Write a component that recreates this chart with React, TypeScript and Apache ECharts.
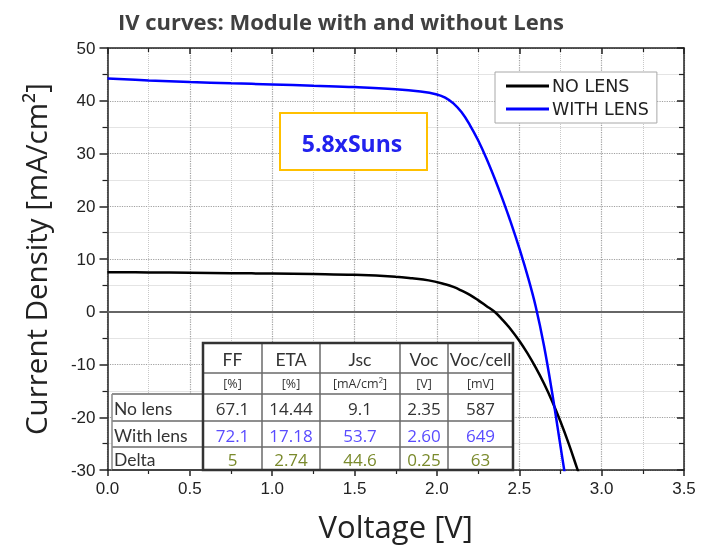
import React, { useEffect, useRef } from 'react';
import * as echarts from 'echarts';

const titleText = 'IV curves: Module with and without Lens';
const xAxisName = 'Voltage [V]';
const yAxisName = 'Current Density [mA/cm²]';
const seriesNames = ['NO LENS', 'WITH LENS'];
const sunsLabel = '5.8xSuns';

const voltageNoLens = [0, 0.25, 0.5, 0.75, 1.0, 1.25, 1.5, 1.75, 1.85, 1.95, 2.05, 2.1, 2.15, 2.2, 2.25, 2.3, 2.35, 2.4, 2.45, 2.5, 2.55, 2.6, 2.65, 2.7, 2.75, 2.8, 2.85, 2.86];
const currentNoLens = [7.5, 7.45, 7.4, 7.3, 7.25, 7.15, 7.0, 6.65, 6.35, 5.95, 5.2, 4.7, 4.0, 3.2, 2.2, 1.1, 0, -1.6, -3.4, -5.5, -7.9, -10.6, -13.6, -17.0, -20.8, -25.0, -29.6, -30.5];

const voltageWithLens = [0, 0.25, 0.5, 0.75, 1.0, 1.25, 1.5, 1.75, 1.9, 2.0, 2.05, 2.1, 2.15, 2.2, 2.25, 2.3, 2.35, 2.4, 2.45, 2.5, 2.55, 2.6, 2.65, 2.7, 2.75, 2.775];
const currentWithLens = [44.2, 43.85, 43.55, 43.3, 43.1, 42.85, 42.6, 42.2, 41.75, 41.2, 40.6, 39.5, 37.8, 35.4, 32.5, 29.1, 25.3, 21.2, 16.8, 12.05, 6.85, 0.95, -6.45, -15.45, -25.45, -30.45];

const tableHeaders = ['FF', 'ETA', 'Jsc', 'Voc', 'Voc/cell'];
const tableUnits = ['[%]', '[%]', '[mA/cm²]', '[V]', '[mV]'];
const rowLabels = ['No lens', 'With lens', 'Delta'];
const noLensValues = ['67.1', '14.44', '9.1', '2.35', '587'];
const withLensValues = ['72.1', '17.18', '53.7', '2.60', '649'];
const deltaValues = ['5', '2.74', '44.6', '0.25', '63'];

const xTicks = { min: 0, max: 3.5, interval: 0.5 };
const yTicks = { min: -30, max: 50, interval: 10 };

function pairs(xs: number[], ys: number[]) {
  return xs.map((x, i) => [x, ys[i]]);
}

const LATO = 'Lato, "Open Sans", sans-serif';
const OPEN = '"Open Sans", Lato, sans-serif';

function buildTable() {
  const colX = [203, 262, 320, 400, 448, 513];
  const rowY = [343, 373, 394, 421, 447, 470];
  const labelLeft = 112;
  const rowsVals = [noLensValues, withLensValues, deltaValues];
  const rowColors = ['#333333', '#5a4cff', '#7a8a2c'];
  const els: any[] = [];
  els.push({ type: 'rect', shape: { x: colX[0], y: rowY[0], width: colX[5] - colX[0], height: rowY[5] - rowY[0] }, style: { fill: '#fff' }, z: 100 });
  els.push({ type: 'rect', shape: { x: labelLeft, y: rowY[2], width: colX[0] - labelLeft, height: rowY[5] - rowY[2] }, style: { fill: '#fff' }, z: 100 });
  const inner = { stroke: '#6a6a6a', lineWidth: 1.5 };
  for (let r = 1; r < 5; r++) {
    const x1 = r >= 2 ? labelLeft : colX[0];
    els.push({ type: 'line', shape: { x1, y1: rowY[r], x2: colX[5], y2: rowY[r] }, style: inner, z: 101 });
  }
  for (let c = 1; c < 5; c++) {
    els.push({ type: 'line', shape: { x1: colX[c], y1: rowY[0], x2: colX[c], y2: rowY[5] }, style: inner, z: 101 });
  }
  els.push({ type: 'line', shape: { x1: labelLeft, y1: rowY[2], x2: labelLeft, y2: rowY[5] }, style: { stroke: '#8a8a8a', lineWidth: 1.5 }, z: 101 });
  els.push({ type: 'line', shape: { x1: labelLeft, y1: rowY[5], x2: colX[0], y2: rowY[5] }, style: { stroke: '#444', lineWidth: 2 }, z: 101 });
  els.push({ type: 'rect', shape: { x: colX[0], y: rowY[0], width: colX[5] - colX[0], height: rowY[5] - rowY[0] }, style: { fill: 'none', stroke: '#333', lineWidth: 2.5 }, z: 102 });
  tableHeaders.forEach((h, c) => {
    els.push({ type: 'text', x: (colX[c] + colX[c + 1]) / 2, y: (rowY[0] + rowY[1]) / 2 + 1, style: { text: h, fill: '#333', font: `17.5px ${LATO}`, align: 'center', verticalAlign: 'middle' }, z: 103 });
    els.push({ type: 'text', x: (colX[c] + colX[c + 1]) / 2, y: (rowY[1] + rowY[2]) / 2, style: { text: tableUnits[c], fill: '#333', font: `12.5px ${OPEN}`, align: 'center', verticalAlign: 'middle' }, z: 103 });
  });
  rowLabels.forEach((lab, r) => {
    const yc = (rowY[r + 2] + rowY[r + 3]) / 2 + 1;
    els.push({ type: 'text', x: labelLeft + 2, y: yc, style: { text: lab, fill: '#333', font: `17.5px ${LATO}`, align: 'left', verticalAlign: 'middle' }, z: 103 });
    rowsVals[r].forEach((v, c) => {
      els.push({ type: 'text', x: (colX[c] + colX[c + 1]) / 2, y: yc, style: { text: v, fill: rowColors[r], font: `17px ${OPEN}`, align: 'center', verticalAlign: 'middle' }, z: 103 });
    });
  });
  return els;
}

export default function App() {
  const ref = useRef<HTMLDivElement>(null);
  useEffect(() => {
    if (!ref.current) return;
    const chart = echarts.init(ref.current, null, { renderer: 'svg' });
    const tickFont = '"Liberation Sans", Arial, sans-serif';
    const majorSplit = () => ({ show: true, lineStyle: { color: '#a0a0a0', type: 'dotted', width: 1.2 } });
    const minorSplit = () => ({ show: true, lineStyle: { color: '#c8c8c8', type: 'dotted', width: 1 } });
    const axisLine = () => ({ show: true, onZero: false, lineStyle: { color: '#222', width: 1.5 } });
    chart.setOption({
      animation: false,
      title: {
        text: titleText,
        left: 113,
        top: 5,
        textStyle: { fontFamily: OPEN, fontSize: 22, fontWeight: 'bold', color: '#404040' },
      },
      grid: { left: 107.5, right: 18, top: 48, bottom: 74 },
      legend: {
        orient: 'vertical',
        left: 495,
        top: 72,
        data: seriesNames,
        icon: 'rect',
        itemWidth: 43,
        itemHeight: 3,
        itemGap: 5,
        padding: [5, 8, 5, 11],
        borderColor: '#a8a8a8',
        borderWidth: 1,
        backgroundColor: '#fff',
        textStyle: { fontFamily: '"DejaVu Sans", sans-serif', fontSize: 17.5, color: '#222', padding: [0, 0, 0, -2] },
        z: 50,
      },
      xAxis: [
        {
          type: 'value', min: xTicks.min, max: xTicks.max, interval: xTicks.interval,
          name: xAxisName, nameLocation: 'middle', nameGap: 40,
          nameTextStyle: { fontFamily: OPEN, fontSize: 31, color: '#222' },
          axisLine: axisLine(), axisTick: { show: true, length: 6, lineStyle: { color: '#222', width: 1.5 } },
          minorTick: { show: true, splitNumber: 2, length: 4, lineStyle: { color: '#222', width: 1.2 } },
          axisLabel: { fontFamily: tickFont, fontSize: 17, color: '#222', margin: 10, formatter: (v: number) => v.toFixed(1) },
          splitLine: majorSplit(), minorSplitLine: minorSplit(),
        },
        {
          type: 'value', position: 'top', min: xTicks.min, max: xTicks.max, interval: xTicks.interval,
          axisLine: axisLine(), axisTick: { show: true, inside: true, length: 6, lineStyle: { color: '#222', width: 1.5 } },
          minorTick: { show: true, splitNumber: 2, length: 4, lineStyle: { color: '#222', width: 1.2 } },
          axisLabel: { show: false }, splitLine: { show: false },
        },
      ],
      yAxis: [
        {
          type: 'value', min: yTicks.min, max: yTicks.max, interval: yTicks.interval,
          name: yAxisName, nameLocation: 'middle', nameGap: 57,
          nameTextStyle: { fontFamily: OPEN, fontSize: 29.5, color: '#222' },
          axisLine: axisLine(), axisTick: { show: true, length: 8, lineStyle: { color: '#222', width: 1.5 } },
          minorTick: { show: true, splitNumber: 2, length: 5, lineStyle: { color: '#222', width: 1.2 } },
          axisLabel: { fontFamily: tickFont, fontSize: 17, color: '#222', margin: 12 },
          splitLine: majorSplit(), minorSplitLine: minorSplit(),
        },
        {
          type: 'value', position: 'right', min: yTicks.min, max: yTicks.max, interval: yTicks.interval,
          axisLine: axisLine(), axisTick: { show: true, inside: true, length: 7, lineStyle: { color: '#222', width: 1.5 } },
          minorTick: { show: true, splitNumber: 2, length: 5, lineStyle: { color: '#222', width: 1.2 } },
          axisLabel: { show: false }, splitLine: { show: false },
        },
      ],
      series: [
        {
          name: seriesNames[0], type: 'line', data: pairs(voltageNoLens, currentNoLens),
          showSymbol: false, smooth: 0.4,
          lineStyle: { color: '#000', width: 2.5 }, itemStyle: { color: '#000' }, z: 5,
          markLine: {
            silent: true, symbol: 'none', label: { show: false },
            lineStyle: { color: '#666', width: 2, type: 'solid' },
            data: [{ yAxis: 0 }],
          },
        },
        {
          name: seriesNames[1], type: 'line', data: pairs(voltageWithLens, currentWithLens),
          showSymbol: false, smooth: 0.4,
          lineStyle: { color: '#0000ff', width: 2.5 }, itemStyle: { color: '#0000ff' }, z: 6,
        },
      ],
      graphic: [
        {
          type: 'rect', shape: { x: 280, y: 113, width: 147, height: 57 },
          style: { fill: '#fff', stroke: '#ffc000', lineWidth: 2 }, z: 100,
        },
        {
          type: 'text', x: 352, y: 143,
          style: { text: sunsLabel, fill: '#2222ee', font: `bold 23px ${OPEN}`, align: 'center', verticalAlign: 'middle' },
          z: 101,
        },
        ...buildTable(),
      ],
    });
    return () => chart.dispose();
  }, []);
  return <div ref={ref} style={{ position: 'fixed', left: 0, top: 0, width: 702, height: 546 }} />;
}
